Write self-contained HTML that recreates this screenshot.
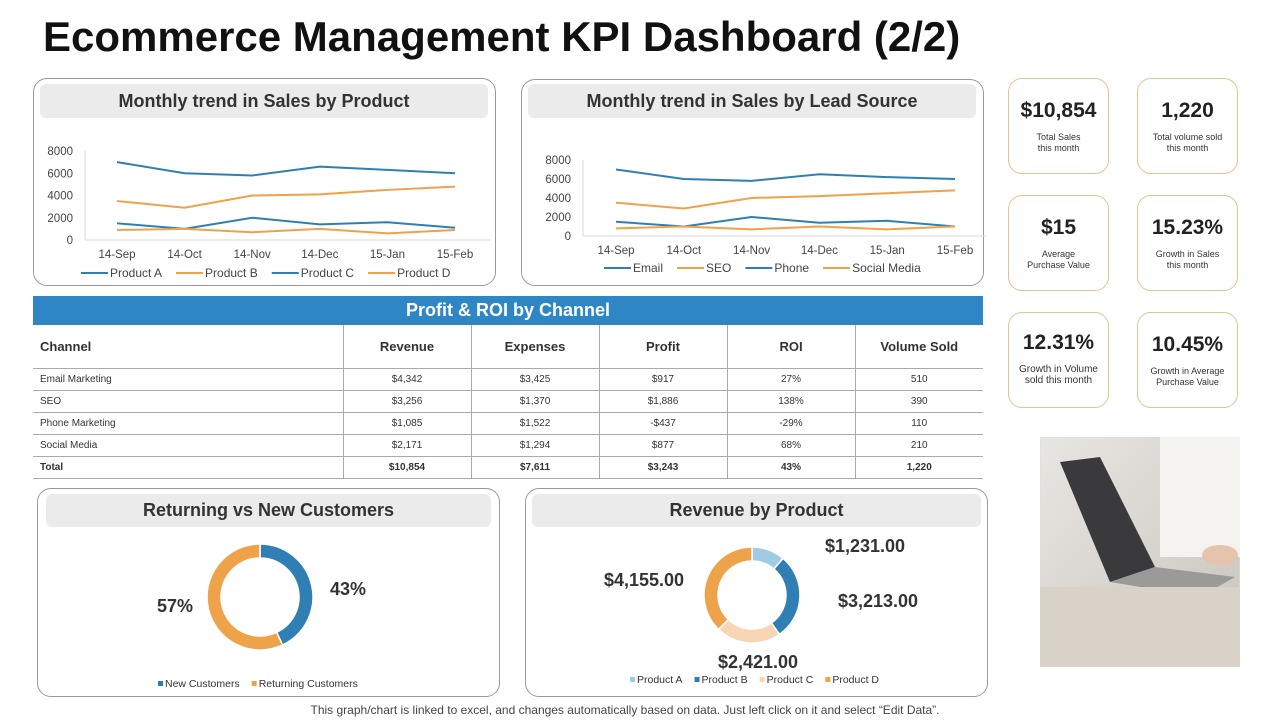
<!DOCTYPE html>
<html><head><meta charset="utf-8">
<style>
*{margin:0;padding:0;box-sizing:border-box}
body{width:1280px;height:720px;background:#fff;position:relative;overflow:hidden;font-family:"Liberation Sans",Arial,sans-serif;color:#222}
.abs{position:absolute}
.panel{position:absolute;border:1px solid #9a9a9a;border-radius:14px;background:#fff}
.hdr{position:absolute;background:#ebebeb;border-radius:6px;font-weight:bold;font-size:18px;color:#333;text-align:center;line-height:34px}
.card{position:absolute;width:101px;height:96px;border:1px solid #e2c48e;border-radius:14px;text-align:center}
.card .v{font-weight:bold;font-size:21px;color:#222;margin-top:20px}
.card .l{font-size:9px;color:#333;margin-top:9px;line-height:11px}
table{border-collapse:collapse;position:absolute;left:33px;top:325px;width:950px;font-size:10px}
td{border-bottom:1px solid #aaa;height:22px;text-align:center;color:#333}
td+td{border-left:1px solid #aaa}
td:first-child{text-align:left;padding-left:7px}
tr.h td{height:43px;font-weight:bold;font-size:13px;color:#333}
tr.t td{font-weight:bold}
svg text{font-family:"Liberation Sans",Arial,sans-serif}
</style></head><body>
<div class="abs" style="left:43px;top:13px;font-size:42px;font-weight:bold;color:#111">Ecommerce Management KPI Dashboard (2/2)</div>

<div class="panel" style="left:33px;top:78px;width:463px;height:208px"></div>
<div class="hdr" style="left:40px;top:84px;width:448px">Monthly trend in Sales by Product</div>
<div class="panel" style="left:521px;top:79px;width:463px;height:207px"></div>
<div class="hdr" style="left:528px;top:84px;width:448px">Monthly trend in Sales by Lead Source</div>

<div class="abs" style="left:33px;top:296px;width:950px;height:29px;background:#2e86c4;color:#fff;font-weight:bold;font-size:18px;text-align:center;line-height:29px">Profit &amp; ROI by Channel</div>
<table>
<colgroup><col style="width:310px"><col style="width:128px"><col style="width:128px"><col style="width:128px"><col style="width:128px"><col style="width:128px"></colgroup>
<tr class="h"><td>Channel</td><td>Revenue</td><td>Expenses</td><td>Profit</td><td>ROI</td><td>Volume Sold</td></tr>
<tr><td>Email Marketing</td><td>$4,342</td><td>$3,425</td><td>$917</td><td>27%</td><td>510</td></tr>
<tr><td>SEO</td><td>$3,256</td><td>$1,370</td><td>$1,886</td><td>138%</td><td>390</td></tr>
<tr><td>Phone Marketing</td><td>$1,085</td><td>$1,522</td><td>-$437</td><td>-29%</td><td>110</td></tr>
<tr><td>Social Media</td><td>$2,171</td><td>$1,294</td><td>$877</td><td>68%</td><td>210</td></tr>
<tr class="t"><td>Total</td><td>$10,854</td><td>$7,611</td><td>$3,243</td><td>43%</td><td>1,220</td></tr>
</table>

<div class="panel" style="left:37px;top:488px;width:463px;height:209px"></div>
<div class="hdr" style="left:46px;top:494px;width:445px;height:33px;line-height:33px">Returning vs New Customers</div>
<div class="panel" style="left:525px;top:488px;width:463px;height:209px"></div>
<div class="hdr" style="left:532px;top:494px;width:449px;height:33px;line-height:33px">Revenue by Product</div>

<div class="card" style="left:1008px;top:78px"><div class="v">$10,854</div><div class="l">Total Sales<br>this month</div></div>
<div class="card" style="left:1137px;top:78px"><div class="v">1,220</div><div class="l">Total volume sold<br>this month</div></div>
<div class="card" style="left:1008px;top:195px"><div class="v">$15</div><div class="l">Average<br>Purchase Value</div></div>
<div class="card" style="left:1137px;top:195px"><div class="v">15.23%</div><div class="l">Growth in Sales<br>this month</div></div>
<div class="card" style="left:1008px;top:312px"><div class="v" style="margin-top:18px">12.31%</div><div class="l" style="font-size:10px">Growth in Volume<br>sold this month</div></div>
<div class="card" style="left:1137px;top:312px"><div class="v">10.45%</div><div class="l">Growth in Average<br>Purchase Value</div></div>

<svg class="abs" style="left:1040px;top:437px" width="200" height="230">
<defs><linearGradient id="bg" x1="0" y1="0" x2="1" y2="1"><stop offset="0" stop-color="#e8e6e2"/><stop offset="1" stop-color="#c9c4bc"/></linearGradient></defs>
<rect width="200" height="230" fill="url(#bg)" stroke="#ddd"/>
<rect x="120" y="0" width="80" height="120" fill="#f4f3f0"/>
<polygon points="20,25 60,20 115,130 70,145" fill="#3a3a3c"/>
<polygon points="70,145 115,130 195,140 160,160" fill="#9c9a98"/>
<rect x="0" y="150" width="200" height="80" fill="#d8d2c9"/>
<ellipse cx="180" cy="118" rx="18" ry="10" fill="#e6c3ac"/>
</svg>

<div class="abs" style="left:-15px;width:1280px;top:703px;text-align:center;font-size:12px;color:#444">This graph/chart is linked to excel, and changes automatically based on data. Just left click on it and select “Edit Data”.</div>

<svg id="c1" class="abs" style="left:0;top:0" width="1280" height="720"></svg>

<script>
const months = ["14-Sep","14-Oct","14-Nov","14-Dec","15-Jan","15-Feb"];
const yTicks = [0,2000,4000,6000,8000];
const prodNames = ["Product A","Product B","Product C","Product D"];
const prodA = [7000,6000,5800,6600,6300,6000];
const prodB = [3500,2900,4000,4100,4500,4800];
const prodC = [1500,1000,2000,1400,1600,1100];
const prodD = [900,1000,700,1000,600,900];
const leadNames = ["Email","SEO","Phone","Social Media"];
const leadEmail = [7000,6000,5800,6500,6200,6000];
const leadSEO = [3500,2900,4000,4200,4500,4800];
const leadPhone = [1500,1000,2000,1400,1600,1000];
const leadSocial = [800,1000,700,1000,700,1000];
const custNames = ["New Customers","Returning Customers"];
const custValues = [43,57];
const revNames = ["Product A","Product B","Product C","Product D"];
const revValues = [1231,3213,2421,4155];

const NS="http://www.w3.org/2000/svg";
const svg=document.getElementById('c1');
function mk(tag,attrs,parent){const e=document.createElementNS(NS,tag);for(const k in attrs)e.setAttribute(k,attrs[k]);(parent||svg).appendChild(e);return e;}
const BLUE="#2f7fb5",ORANGE="#eea24a";

function lineChart(cfg,series,names){
  const g=mk('g',{});
  
  
  const y=v=>cfg.y0-(v/8000)*(cfg.y0-cfg.y8);
  const x=i=>cfg.x0+i*cfg.dx;
  mk('line',{x1:cfg.ax0,x2:cfg.ax1,y1:cfg.y0,y2:cfg.y0,stroke:'#d9d9d9'},g);
  mk('line',{x1:cfg.ax0,x2:cfg.ax0,y1:cfg.y8,y2:cfg.y0,stroke:'#d9d9d9'},g);
  yTicks.forEach(t=>{const e=mk('text',{x:cfg.ax0-12,y:y(t)+4,'text-anchor':'end','font-size':11.5,fill:'#444'},g);e.textContent=t;
    });
  months.forEach((m,i)=>{const e=mk('text',{x:x(i),y:cfg.y0+18,'text-anchor':'middle','font-size':11.5,fill:'#444'},g);e.textContent=m;
    });
  const cols=[BLUE,ORANGE,BLUE,ORANGE];
  series.forEach((s,k)=>{const p=mk('polyline',{points:s.map((v,i)=>x(i)+','+y(v)).join(' '),fill:'none',stroke:cols[k],'stroke-width':2},g);
    });
  let lx=cfg.lx;
  names.forEach((n,k)=>{mk('line',{x1:lx,x2:lx+27,y1:cfg.ly,y2:cfg.ly,stroke:cols[k],'stroke-width':2},g);
    const t=mk('text',{x:lx+29,y:cfg.ly+4,'font-size':12,fill:'#444'},g);t.textContent=n;
    
    lx+=29+t.getComputedTextLength()+14;});
}
lineChart({name:'sales-by-product-chart',x0:117,dx:67.6,y0:240,y8:151,ax0:85,ax1:490,lx:81,ly:273},[prodA,prodB,prodC,prodD],prodNames);
lineChart({name:'sales-by-lead-chart',x0:616,dx:67.8,y0:236,y8:160,ax0:583,ax1:986,lx:604,ly:268},[leadEmail,leadSEO,leadPhone,leadSocial],leadNames);

function donut(name,cx,cy,ro,ri,vals,cols){
  const g=mk('g',{});
  
  const tot=vals.reduce((a,b)=>a+b,0);let a=0;
  vals.forEach((v,k)=>{const a0=a/tot*2*Math.PI,a1=(a+v)/tot*2*Math.PI;a+=v;
    const pt=(r,t)=>[cx+r*Math.sin(t),cy-r*Math.cos(t)];
    const [x0,y0]=pt(ro,a0),[x1,y1]=pt(ro,a1),[x2,y2]=pt(ri,a1),[x3,y3]=pt(ri,a0);
    const lg=(a1-a0)>Math.PI?1:0;
    const p=mk('path',{d:`M${x0},${y0}A${ro},${ro} 0 ${lg} 1 ${x1},${y1}L${x2},${y2}A${ri},${ri} 0 ${lg} 0 ${x3},${y3}Z`,fill:cols[k],stroke:'#fff','stroke-width':1.5},g);
    });
  return g;
}
donut('customers-donut',260,597,53,39,custValues,[BLUE,ORANGE]);
donut('revenue-donut',752,595,48,34,revValues,["#9fcbe6","#2f7fb5","#f9d6b3","#eea24a"]);

function txt(name,s,x,y,size,anchor,bold){const t=mk('text',{x:x,y:y,'font-size':size,'text-anchor':anchor||'start','font-weight':bold?'bold':'normal',fill:'#333'});t.textContent=s;
  return t;}
txt('value-label-returning',custValues[1]+'%',175,612,18,'middle',true);
txt('value-label-new',custValues[0]+'%',348,595,18,'middle',true);
const fmt=v=>'$'+v.toLocaleString('en-US')+'.00';
txt('value-label-product-a',fmt(revValues[0]),865,552,18,'middle',true);
txt('value-label-product-b',fmt(revValues[1]),878,607,18,'middle',true);
txt('value-label-product-c',fmt(revValues[2]),758,668,18,'middle',true);
txt('value-label-product-d',fmt(revValues[3]),644,586,18,'middle',true);

function legend(x,y,names,cols){names.forEach((n,k)=>{mk('rect',{x:x,y:y-6,width:5,height:5,fill:cols[k]});
  const t=txt('legend-entry',n,x+7,y,10.5);x+=7+t.getComputedTextLength()+12;});}
legend(158,687,custNames,[BLUE,ORANGE]);
legend(630,683,revNames,["#9fcbe6","#2f7fb5","#f9d6b3","#eea24a"]);
</script>
</body></html>
